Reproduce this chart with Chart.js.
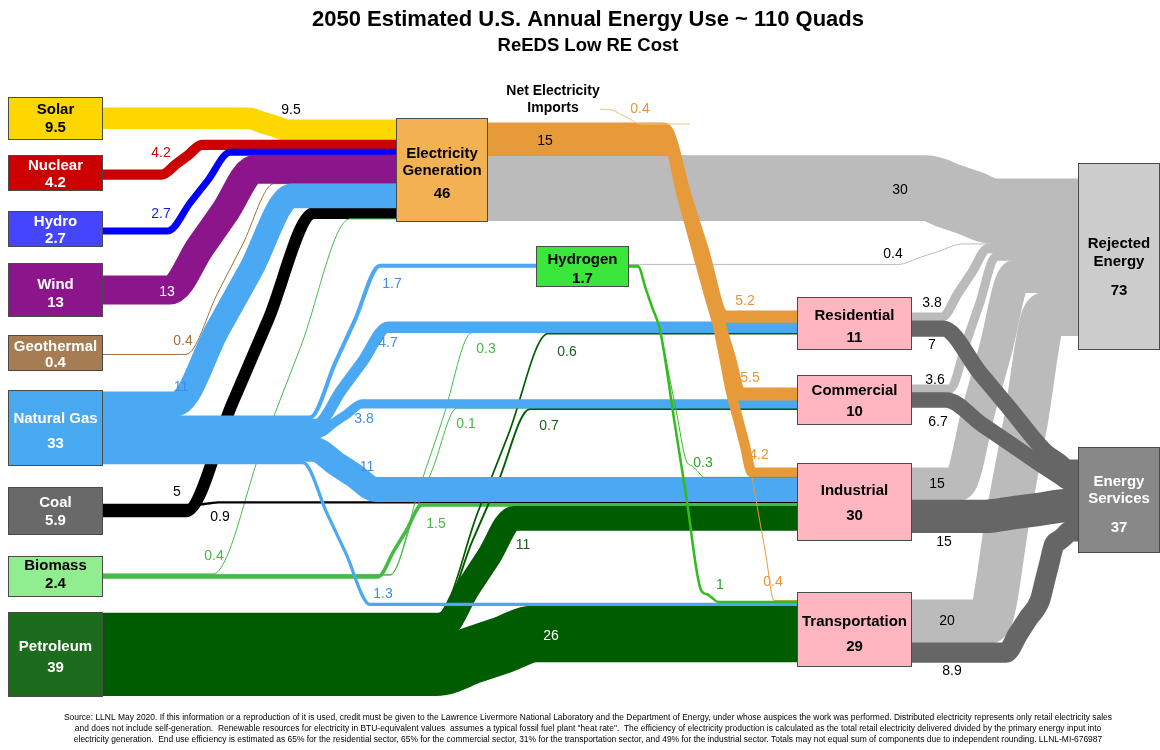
<!DOCTYPE html>
<html>
<head>
<meta charset="utf-8">
<script src="https://cdn.jsdelivr.net/npm/chart.js@4.4.1/dist/chart.umd.min.js"></script>
<style>
  html, body { margin: 0; padding: 0; background: #fff; }
  #wrap { width: 1160px; height: 750px; }
</style>
</head>
<body>
<div id="wrap"><canvas id="sankey" width="1160" height="750"></canvas></div>
<script>
// =====================
// DATA (quads)
// =====================
const nodeKeys = ['solar', 'nuclear', 'hydro', 'wind', 'geo', 'gas', 'coal', 'bio', 'pet',
  'elec', 'h2', 'res', 'com', 'ind', 'trans', 'rej', 'serv'];
const nodeNames = [['Solar'], ['Nuclear'], ['Hydro'], ['Wind'], ['Geothermal'], ['Natural Gas'],
  ['Coal'], ['Biomass'], ['Petroleum'], ['Electricity', 'Generation'], ['Hydrogen'],
  ['Residential'], ['Commercial'], ['Industrial'], ['Transportation'],
  ['Rejected', 'Energy'], ['Energy', 'Services']];
const nodeTotals = ['9.5', '4.2', '2.7', '13', '0.4', '33', '5.9', '2.4', '39',
  '46', '1.7', '11', '10', '30', '29', '73', '37'];

const flowFrom = ['solar', 'nuclear', 'hydro', 'wind', 'geo', 'gas', 'coal', 'bio', 'coal',
  'gas', 'gas', 'gas', 'gas', 'gas', 'bio', 'bio', 'bio', 'pet', 'pet', 'pet', 'pet',
  'imports', 'elec', 'elec', 'elec', 'elec', 'elec', 'h2', 'h2', 'h2',
  'res', 'res', 'com', 'com', 'ind', 'ind', 'trans', 'trans'];
const flowTo = ['elec', 'elec', 'elec', 'elec', 'elec', 'elec', 'elec', 'elec', 'ind',
  'h2', 'res', 'com', 'ind', 'trans', 'res', 'com', 'ind', 'res', 'com', 'ind', 'trans',
  'elec', 'res', 'com', 'ind', 'trans', 'rej', 'rej', 'ind', 'trans',
  'rej', 'serv', 'rej', 'serv', 'rej', 'serv', 'rej', 'serv'];
const flowValues = [9.5, 4.2, 2.7, 13, 0.4, 11, 5, 0.4, 0.9,
  1.7, 4.7, 3.8, 11, 1.3, 0.3, 0.1, 1.5, 0.6, 0.7, 11, 26,
  0.4, 5.2, 5.5, 4.2, 0.4, 30, 0.4, 0.3, 1,
  3.8, 7, 3.6, 6.7, 15, 15, 20, 8.9];
const deliveredElectricity = [15];

// =====================
// LAYOUT
// =====================
const K = 2.15; // px per quad

const nodeLayout = {
  solar:   { box: [8, 97, 95, 43],    fill: '#FFD700', ink: '#000', ty: [110, 128], outTop: 108 },
  nuclear: { box: [8, 155, 95, 36],   fill: '#CC0000', ink: '#fff', ty: [166, 183], outTop: 170 },
  hydro:   { box: [8, 211, 95, 36],   fill: '#4545FF', ink: '#fff', ty: [222, 239], outTop: 228 },
  wind:    { box: [8, 263, 95, 54],   fill: '#8B168B', ink: '#fff', ty: [285, 303], outTop: 276 },
  geo:     { box: [8, 335, 95, 36],   fill: '#A67D52', ink: '#fff', ty: [347, 363], outTop: 354 },
  gas:     { box: [8, 390, 95, 76],   fill: '#49A9F0', ink: '#fff', ty: [419, 444], outTop: 392 },
  coal:    { box: [8, 487, 95, 48],   fill: '#696969', ink: '#fff', ty: [503, 521], outTop: 504 },
  bio:     { box: [8, 556, 95, 41],   fill: '#90EE90', ink: '#000', ty: [566, 584], outTop: 573.5 },
  pet:     { box: [8, 612, 95, 85],   fill: '#1D6B1D', ink: '#fff', ty: [647, 668], outTop: 613 },
  elec:    { box: [396, 118, 92, 104], fill: '#F2B152', ink: '#000', ty: [154, 171, 194], outTop: 123, inTop: 120 },
  h2:      { box: [536, 246, 93, 41], fill: '#3AE63A', ink: '#000', ty: [260, 279], outTop: 264, inTop: 264 },
  res:     { box: [797, 297, 115, 53], fill: '#FFB6C1', ink: '#000', ty: [316, 338], outTop: 313, inTop: 311 },
  com:     { box: [797, 375, 115, 50], fill: '#FFB6C1', ink: '#000', ty: [391, 412], outTop: 385, inTop: 388 },
  ind:     { box: [797, 463, 115, 78], fill: '#FFB6C1', ink: '#000', ty: [491, 516], outTop: 468, inTop: 468 },
  trans:   { box: [797, 592, 115, 75], fill: '#FFB6C1', ink: '#000', ty: [622, 647], outTop: 600, inTop: 600 },
  rej:     { box: [1078, 163, 82, 187], fill: '#CCCCCC', ink: '#000', ty: [244, 262, 291], inTop: 179 },
  serv:    { box: [1078, 447, 82, 106], fill: '#888888', ink: '#fff', ty: [482, 499, 528], inTop: 460 }
};

// stacking order of flow indices along node edges
const outOrder = {
  solar: [0], nuclear: [1], hydro: [2], wind: [3], geo: [4],
  gas: [5, 9, 10, 11, 12, 13], coal: [8, 6], bio: [7, 14, 15, 16], pet: [17, 18, 19, 20],
  elec: [22, 23, 24, 25, 26], h2: [27, 28, 29],
  res: [30, 31], com: [32, 33], ind: [34, 35], trans: [36, 37]
};
const inOrder = {
  elec: [0, 1, 2, 3, 4, 5, 6, 7], h2: [9],
  res: [22, 10, 14, 17], com: [23, 11, 15, 18], ind: [24, 28, 12, 8, 16, 19],
  trans: [25, 29, 13, 20], rej: [26, 27, 30, 32, 34, 36], serv: [31, 33, 35, 37]
};

const C = {
  gas: '#4BA8F2', gasTxt: '#3D8EE6', bio: '#44BB44', pet: '#005C00', petTxt: '#1A5E1A',
  elec: '#E69A3A', elecTxt: '#E8963A', h2: '#33BB22', rej: '#BBBBBB', serv: '#666666'
};

// route: via points ('s' = start y, 'e' = end y), colour, label position/colour
const flowLayout = [
  { via: [[248, 's'], [288, 'e']], color: '#FFD700', lab: [291, 110], labColor: '#000' },
  { via: [[162, 's'], [202, 'e']], color: '#CC0000', lab: [161, 153], labColor: '#CC0000' },
  { via: [[168, 's'], [230, 'e']], color: '#0000FF', lab: [161, 214], labColor: '#1515F0' },
  { via: [[170, 's'], [255, 'e']], color: '#8B158B', lab: [167, 292], labColor: '#fff' },
  { via: [[186, 's'], [274, 'e']], color: '#A0703C', lab: [183, 341], labColor: '#A0703C' },
  { via: [[176, 's'], [292, 'e']], color: C.gas, lab: [181, 387], labColor: C.gasTxt },
  { via: [[186, 's'], [314, 'e']], color: '#000', lab: [177, 492], labColor: '#000' },
  { via: [[213, 's'], [350, 'e']], color: C.bio, lab: [214, 556], labColor: C.bio },
  { via: [[196, 's'], [218, 'e']], color: '#000', lab: [220, 517], labColor: '#000' },
  { via: [[310, 's'], [380, 'e']], color: C.gas, lab: [392, 284], labColor: C.gasTxt },
  { via: [[316, 's'], [388, 'e']], color: C.gas, lab: [388, 343], labColor: C.gasTxt },
  { via: [[318, 's'], [362, 'e']], color: C.gas, lab: [364, 419], labColor: C.gasTxt },
  { via: [[314, 's'], [376, 'e']], color: C.gas, lab: [367, 467], labColor: C.gasTxt },
  { via: [[303, 's'], [370, 'e']], color: C.gas, lab: [383, 594], labColor: C.gasTxt },
  { via: [[390, 's'], [472, 'e']], color: C.bio, lab: [486, 349], labColor: C.bio },
  { via: [[390, 's'], [457, 'e']], color: C.bio, lab: [466, 424], labColor: C.bio },
  { via: [[378, 's'], [422, 'e']], color: C.bio, lab: [436, 524], labColor: C.bio },
  { via: [[438, 's'], [548, 'e']], color: C.pet, lab: [567, 352], labColor: C.petTxt },
  { via: [[440, 's'], [530, 'e']], color: C.pet, lab: [549, 426], labColor: C.petTxt },
  { via: [[442, 's'], [514, 'e']], color: C.pet, lab: [523, 545], labColor: C.petTxt },
  { via: [[436, 's'], [536, 'e']], color: C.pet, lab: [551, 636], labColor: '#fff' },
  { path: [[600, 109], [612, 110], [640, 124], [690, 124]], color: '#F3BE84', lab: [640, 109], labColor: C.elecTxt },
  { via: [[664, 's'], [724, 'e']], color: C.elec, lab: [745, 301], labColor: C.elecTxt },
  { via: [[668, 's'], [712, 300], [740, 'e']], color: C.elec, lab: [750, 378], labColor: C.elecTxt },
  { via: [[671, 's'], [713, 300], [731, 392], [752, 'e']], color: C.elec, lab: [759, 455], labColor: C.elecTxt },
  { via: [[674, 's'], [716, 300], [734, 392], [751, 472], [774, 'e']], color: C.elec, lab: [773, 582], labColor: C.elecTxt },
  { via: [[926, 's'], [994, 'e']], color: C.rej, lab: [900, 190], labColor: '#000' },
  { via: [[898, 's'], [962, 'e']], color: C.rej, lab: [893, 254], labColor: '#000' },
  { via: [[638, 's'], [660, 330], [686, 460], [704, 'e']], color: C.h2, lab: [703, 463], labColor: '#2DA02D' },
  { via: [[638, 's'], [660, 330], [701, 590], [718, 'e']], color: C.h2, lab: [720, 585], labColor: '#2DA02D' },
  { via: [[942, 's'], [988, 'e']], color: C.rej, lab: [932, 303], labColor: '#000' },
  { via: [[943, 's'], [1046, 452], [1068, 'e']], color: C.serv, lab: [932, 345], labColor: '#000' },
  { via: [[950, 's'], [996, 'e']], color: C.rej, lab: [935, 380], labColor: '#000' },
  { via: [[946, 's'], [1046, 468], [1068, 'e']], color: C.serv, lab: [938, 422], labColor: '#000' },
  { via: [[958, 's'], [1016, 'e']], color: C.rej, lab: [937, 484], labColor: '#000' },
  { via: [[985, 's'], [1068, 'e']], color: C.serv, lab: [944, 542], labColor: '#000' },
  { via: [[988, 's'], [1046, 'e']], color: C.rej, lab: [947, 621], labColor: '#000' },
  { via: [[1006, 's'], [1040, 600], [1054, 545], [1070, 'e']], color: C.serv, lab: [952, 671], labColor: '#000' }
];

// bottom -> top
const drawOrder = [26, 27, 30, 32, 34, 36, 31, 33, 35, 37,
  6, 4, 7, 0, 1, 2, 3, 5, 8, 14, 15, 16, 17, 18, 20, 19,
  9, 10, 11, 12, 13, 22, 23, 24, 25, 21, 28, 29];

// =====================
// STACK POSITIONS
// =====================
const yStart = {}, yEnd = {};
Object.keys(outOrder).forEach(key => {
  let acc = nodeLayout[key].outTop;
  outOrder[key].forEach(fi => {
    const h = flowValues[fi] * K;
    yStart[fi] = acc + h / 2;
    acc += h;
  });
});
Object.keys(inOrder).forEach(key => {
  let acc = nodeLayout[key].inTop;
  inOrder[key].forEach(fi => {
    const h = flowValues[fi] * K;
    yEnd[fi] = acc + h / 2;
    acc += h;
  });
});

// shoulders on sloped segments so the monotone curve gives
// straight diagonals with rounded corners
function smoothRoute(pts, f) {
  const out = [pts[0]];
  for (let i = 1; i < pts.length; i++) {
    const [ax, ay] = pts[i - 1], [bx, by] = pts[i];
    if (Math.abs(by - ay) > 0.5) {
      out.push([ax + (bx - ax) * f, ay + (by - ay) * f]);
      out.push([bx - (bx - ax) * f, by - (by - ay) * f]);
    }
    out.push(pts[i]);
  }
  return out;
}

function flowPath(i) {
  const L = flowLayout[i];
  let pts;
  if (L.path) {
    pts = L.path.slice();
  } else {
    const src = nodeLayout[flowFrom[i]], dst = nodeLayout[flowTo[i]];
    pts = [[src.box[0] + src.box[2], yStart[i]]];
    L.via.forEach(([vx, vy]) => {
      pts.push([vx, vy === 's' ? yStart[i] : vy === 'e' ? yEnd[i] : vy]);
    });
    pts.push([dst.box[0], yEnd[i]]);
  }
  return smoothRoute(pts, 0.36).map(([x, y]) => ({ x, y }));
}

const datasets = drawOrder.map((fi, pos) => {
  const w = flowValues[fi] * K;
  return {
    label: flowFrom[fi] + ' > ' + flowTo[fi],
    data: flowPath(fi),
    borderColor: flowLayout[fi].color,
    borderWidth: w < 1 ? 1 : (w < 4 ? w + 0.4 : w + 1.2),
    cubicInterpolationMode: 'monotone',
    pointRadius: 0,
    fill: false,
    clip: false,
    order: drawOrder.length - pos
  };
});

const FONT = '"Liberation Sans", Arial, Helvetica, sans-serif';

// =====================
// BOXES + TEXT
// =====================
const sankeyDecor = {
  id: 'sankeyDecor',
  afterDatasetsDraw(chart) {
    const { ctx, scales: { x, y } } = chart;
    ctx.save();
    ctx.textAlign = 'center';
    ctx.textBaseline = 'middle';

    // flow value labels
    ctx.font = '14px ' + FONT;
    flowLayout.forEach((L, i) => {
      ctx.fillStyle = L.labColor;
      ctx.fillText(String(flowValues[i]), x.getPixelForValue(L.lab[0]), y.getPixelForValue(L.lab[1]));
    });
    ctx.fillStyle = '#000';
    ctx.fillText(String(deliveredElectricity[0]), x.getPixelForValue(545), y.getPixelForValue(141));

    // nodes
    nodeKeys.forEach((key, i) => {
      const n = nodeLayout[key];
      const x0 = x.getPixelForValue(n.box[0]), y0 = y.getPixelForValue(n.box[1]);
      const x1 = x.getPixelForValue(n.box[0] + n.box[2]), y1 = y.getPixelForValue(n.box[1] + n.box[3]);
      ctx.fillStyle = n.fill;
      ctx.fillRect(x0, y0, x1 - x0, y1 - y0);
      ctx.strokeStyle = '#4a4a4a';
      ctx.lineWidth = 1;
      ctx.strokeRect(x0 + 0.5, y0 + 0.5, x1 - x0 - 1, y1 - y0 - 1);
      const lines = nodeNames[i].concat([nodeTotals[i]]);
      ctx.fillStyle = n.ink;
      const cx = (x0 + x1) / 2;
      lines.forEach((t, j) => {
        let size = 15;
        ctx.font = 'bold ' + size + 'px ' + FONT;
        while (ctx.measureText(t).width > (x1 - x0) - 6 && size > 10) {
          size -= 0.5;
          ctx.font = 'bold ' + size + 'px ' + FONT;
        }
        ctx.fillText(t, cx, y.getPixelForValue(n.ty[j]));
      });
    });

    // net imports label
    ctx.fillStyle = '#000';
    ctx.font = 'bold 14px ' + FONT;
    ctx.fillText('Net Electricity', x.getPixelForValue(553), y.getPixelForValue(91));
    ctx.fillText('Imports', x.getPixelForValue(553), y.getPixelForValue(108));

    // title
    ctx.font = 'bold 22px ' + FONT;
    ctx.fillText('2050 Estimated U.S. Annual Energy Use ~ 110 Quads', 588, 20);
    ctx.font = 'bold 18.5px ' + FONT;
    ctx.fillText('ReEDS Low RE Cost', 588, 46);

    // footnote
    const notes = [
      'Source: LLNL May 2020. If this information or a reproduction of it is used, credit must be given to the Lawrence Livermore National Laboratory and the Department of Energy, under whose auspices the work was performed. Distributed electricity represents only retail electricity sales',
      'and does not include self-generation.  Renewable resources for electricity in BTU-equivalent values  assumes a typical fossil fuel plant "heat rate".  The efficiency of electricity production is calculated as the total retail electricity delivered divided by the primary energy input into',
      'electricity generation.  End use efficiency is estimated as 65% for the residential sector, 65% for the commercial sector, 31% for the transportation sector, and 49% for the industrial sector. Totals may not equal sum of components due to independent rounding. LLNL-MI-676987'
    ];
    const NOTE_FONT = '"Liberation Sans Narrow", "Arial Narrow", ' + FONT;
    ctx.font = '8.5px ' + NOTE_FONT;
    const w0 = ctx.measureText(notes[0]).width;
    const sz = 8.5 * 1049 / w0;
    ctx.font = sz.toFixed(2) + 'px ' + NOTE_FONT;
    ctx.fillStyle = '#000';
    notes.forEach((t, j) => ctx.fillText(t, 588, 718 + j * 11));
    ctx.restore();
  }
};

new Chart(document.getElementById('sankey'), {
  type: 'line',
  data: { datasets },
  options: {
    responsive: false,
    animation: false,
    events: [],
    layout: { padding: 0 },
    plugins: {
      legend: { display: false },
      tooltip: { enabled: false },
      title: { display: false }
    },
    scales: {
      x: { type: 'linear', min: 0, max: 1160, display: false },
      y: { type: 'linear', min: 0, max: 750, reverse: true, display: false }
    }
  },
  plugins: [sankeyDecor]
});
</script>
</body>
</html>
